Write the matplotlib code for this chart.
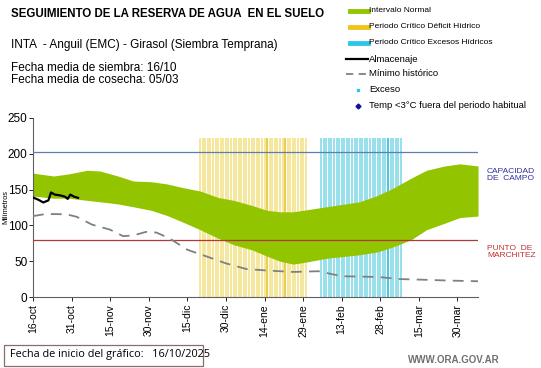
import matplotlib
matplotlib.use("Agg")
import matplotlib.pyplot as plt
from matplotlib.lines import Line2D
from matplotlib.patches import Rectangle
import numpy as np

# ---------------------------------------------------------------------------
# Data (days counted from 16-oct)
# ---------------------------------------------------------------------------
tick_days = [0, 15, 30, 45, 60, 75, 90, 105, 120, 135, 150, 165]
tick_labels = ["16-oct", "31-oct", "15-nov", "30-nov", "15-dic", "30-dic",
               "14-ene", "29-ene", "13-feb", "28-feb", "15-mar", "30-mar"]

band_days = [0, 8, 14, 21, 26, 33, 39, 46, 52, 58, 65, 72, 78, 85, 91, 96,
             101, 105, 114, 127, 134, 140, 147, 153, 160, 166, 173]
band_upper = [173, 169, 172, 177, 176, 169, 162, 161, 158, 153, 148, 139,
              135, 128, 121, 119, 119, 121, 126, 133, 142, 152, 166, 177,
              183, 186, 183]
band_lower = [141, 138, 138, 135, 133, 130, 126, 121, 114, 105, 94, 82,
              73, 66, 57, 50, 46, 48, 54, 59, 63, 70, 80, 94, 103, 111, 113]

min_days = [0, 5, 13, 17, 23, 30, 35, 39, 44, 48, 53, 60, 68, 75, 83, 91,
            96, 101, 111, 120, 134, 143, 153, 161, 173]
min_hist = [113, 116, 115.5, 112, 101, 94, 85, 86, 91, 90, 82, 66, 56, 47,
            39, 37, 36, 35, 36, 29, 28, 25, 24, 23, 22]

alm_days = [0, 2, 4, 6, 7, 8.5, 10.5, 12.5, 13.5, 14.5, 16, 17.5]
almacenaje = [139, 136, 132, 135, 146, 143, 142, 140, 137, 143, 140, 138.5]

capacidad_campo = 203
punto_marchitez = 80

deficit_period = (65, 106)     # 20-dic .. 30-ene
deficit_dark = [91, 98]
exceso_period = (112, 143)     # 05-feb .. 08-mar
exceso_dark = [138]
period_height = 222

# ---------------------------------------------------------------------------
# Figure
# ---------------------------------------------------------------------------
fig = plt.figure(figsize=(5.41, 3.68), dpi=100)
plt.rcParams["font.family"] = ["Liberation Sans", "DejaVu Sans"]
ax = fig.add_axes([33 / 541, 1 - 297 / 368, 445 / 541, 179 / 368])

# critical periods as daily vertical lines
for d in range(deficit_period[0], deficit_period[1] + 1):
    c = "#E9C93A" if d in deficit_dark else "#F6E595"
    ax.vlines(d, 0, period_height, color=c, linewidth=1.3, zorder=1)
for d in range(exceso_period[0], exceso_period[1] + 1):
    c = "#3CC0D8" if d in exceso_dark else "#8EDDEA"
    ax.vlines(d, 0, period_height, color=c, linewidth=1.3, zorder=1)

ax.fill_between(band_days, band_lower, band_upper, color="#92C500",
                linewidth=0, zorder=2)

ax.axhline(capacidad_campo, color="#5B7FB5", linewidth=0.9, zorder=3)
ax.axhline(punto_marchitez, color="#B03A3A", linewidth=0.9, zorder=3)

ax.plot(min_days, min_hist, color="#808080", linewidth=1.3,
        dashes=(6, 4), zorder=4)
ax.plot(alm_days, almacenaje, color="black", linewidth=1.6, zorder=5)

ax.set_xlim(0, 173)
ax.set_ylim(0, 250)
ax.set_yticks([0, 50, 100, 150, 200, 250])
ax.tick_params(axis="y", labelsize=8.5, length=3, width=0.6, pad=1)
ax.set_xticks(tick_days)
ax.set_xticklabels(tick_labels, rotation=90, fontsize=7.5)
ax.tick_params(axis="x", length=3, width=0.6, pad=2)
for s in ["top", "right"]:
    ax.spines[s].set_visible(False)
for s in ["left", "bottom"]:
    ax.spines[s].set_color("#606060")
    ax.spines[s].set_linewidth(0.8)

fig.text(6 / 541, 1 - 207 / 368, "Milímetros", rotation=90, fontsize=5.3,
         ha="center", va="center")

# right side labels
fig.text(487 / 541, 1 - 175 / 368, "CAPACIDAD\nDE  CAMPO", fontsize=6,
         color="#3030A0", va="center", ha="left", linespacing=1.1)
fig.text(487 / 541, 1 - 252 / 368, "PUNTO  DE\nMARCHITEZ", fontsize=6,
         color="#C03030", va="center", ha="left", linespacing=1.1)

# header texts
fig.text(11 / 541, 1 - 14 / 368,
         "SEGUIMIENTO DE LA RESERVA DE AGUA  EN EL SUELO",
         fontsize=8.3, fontweight="bold", va="center")
fig.text(11 / 541, 1 - 45 / 368,
         "INTA  - Anguil (EMC) - Girasol (Siembra Temprana)",
         fontsize=8.5, va="center")
fig.text(11 / 541, 1 - 68 / 368, "Fecha media de siembra: 16/10",
         fontsize=8.5, va="center")
fig.text(11 / 541, 1 - 80 / 368, "Fecha media de cosecha: 05/03",
         fontsize=8.5, va="center")

# manual legend
legend_items = [
    ("Intervalo Normal", "band", "#92C500"),
    ("Periodo Crítico Déficit Hídrico", "band", "#F2C318"),
    ("Periodo Crítico Excesos Hídricos", "band", "#2FC5E8"),
    ("Almacenaje", "line", "black"),
    ("Mínimo histórico", "dash", "#808080"),
    ("Exceso", "dot", "#2FC5E8"),
    ("Temp <3°C fuera del periodo habitual", "diamond", "#1010A0"),
]
legend_y = [11, 27, 43, 59, 74, 90, 106]
for (label, kind, color), yp in zip(legend_items, legend_y):
    yf = 1 - yp / 368
    x0, x1 = 346 / 541, 368 / 541
    if kind == "band":
        fig.add_artist(Line2D([x0 + 4 / 541, x1], [yf, yf], color=color,
                              linewidth=3.5, transform=fig.transFigure))
    elif kind == "line":
        fig.add_artist(Line2D([x0, x1], [yf, yf], color=color,
                              linewidth=1.6, transform=fig.transFigure))
    elif kind == "dash":
        fig.add_artist(Line2D([x0, x1], [yf, yf], color=color,
                              linewidth=1.3, dashes=(4, 3),
                              transform=fig.transFigure))
    elif kind == "dot":
        fig.add_artist(Line2D([358 / 541], [yf], color=color, marker="s",
                              markersize=2, linestyle="none",
                              transform=fig.transFigure))
    else:
        fig.add_artist(Line2D([358 / 541], [yf], color=color, marker="D",
                              markersize=2.5, linestyle="none",
                              transform=fig.transFigure))
    fs = 6 if kind == "band" else 6.8
    fig.text(369 / 541, yf, label, fontsize=fs, va="center", ha="left")

# footer
fig.add_artist(Rectangle((4 / 541, 1 - 366 / 368), 199 / 541, 21 / 368,
                         transform=fig.transFigure, fill=False,
                         edgecolor="#8B6B6B", linewidth=0.9))
fig.text(10 / 541, 1 - 355 / 368, "Fecha de inicio del gráfico:   16/10/2025",
         fontsize=7.8, va="center", family=["Open Sans", "DejaVu Sans"])
fig.text(500 / 541, 1 - 360 / 368, "WWW.ORA.GOV.AR", fontsize=7,
         color="#707070", ha="right", va="center", fontweight="bold")

fig.savefig("out.png", dpi=100)
